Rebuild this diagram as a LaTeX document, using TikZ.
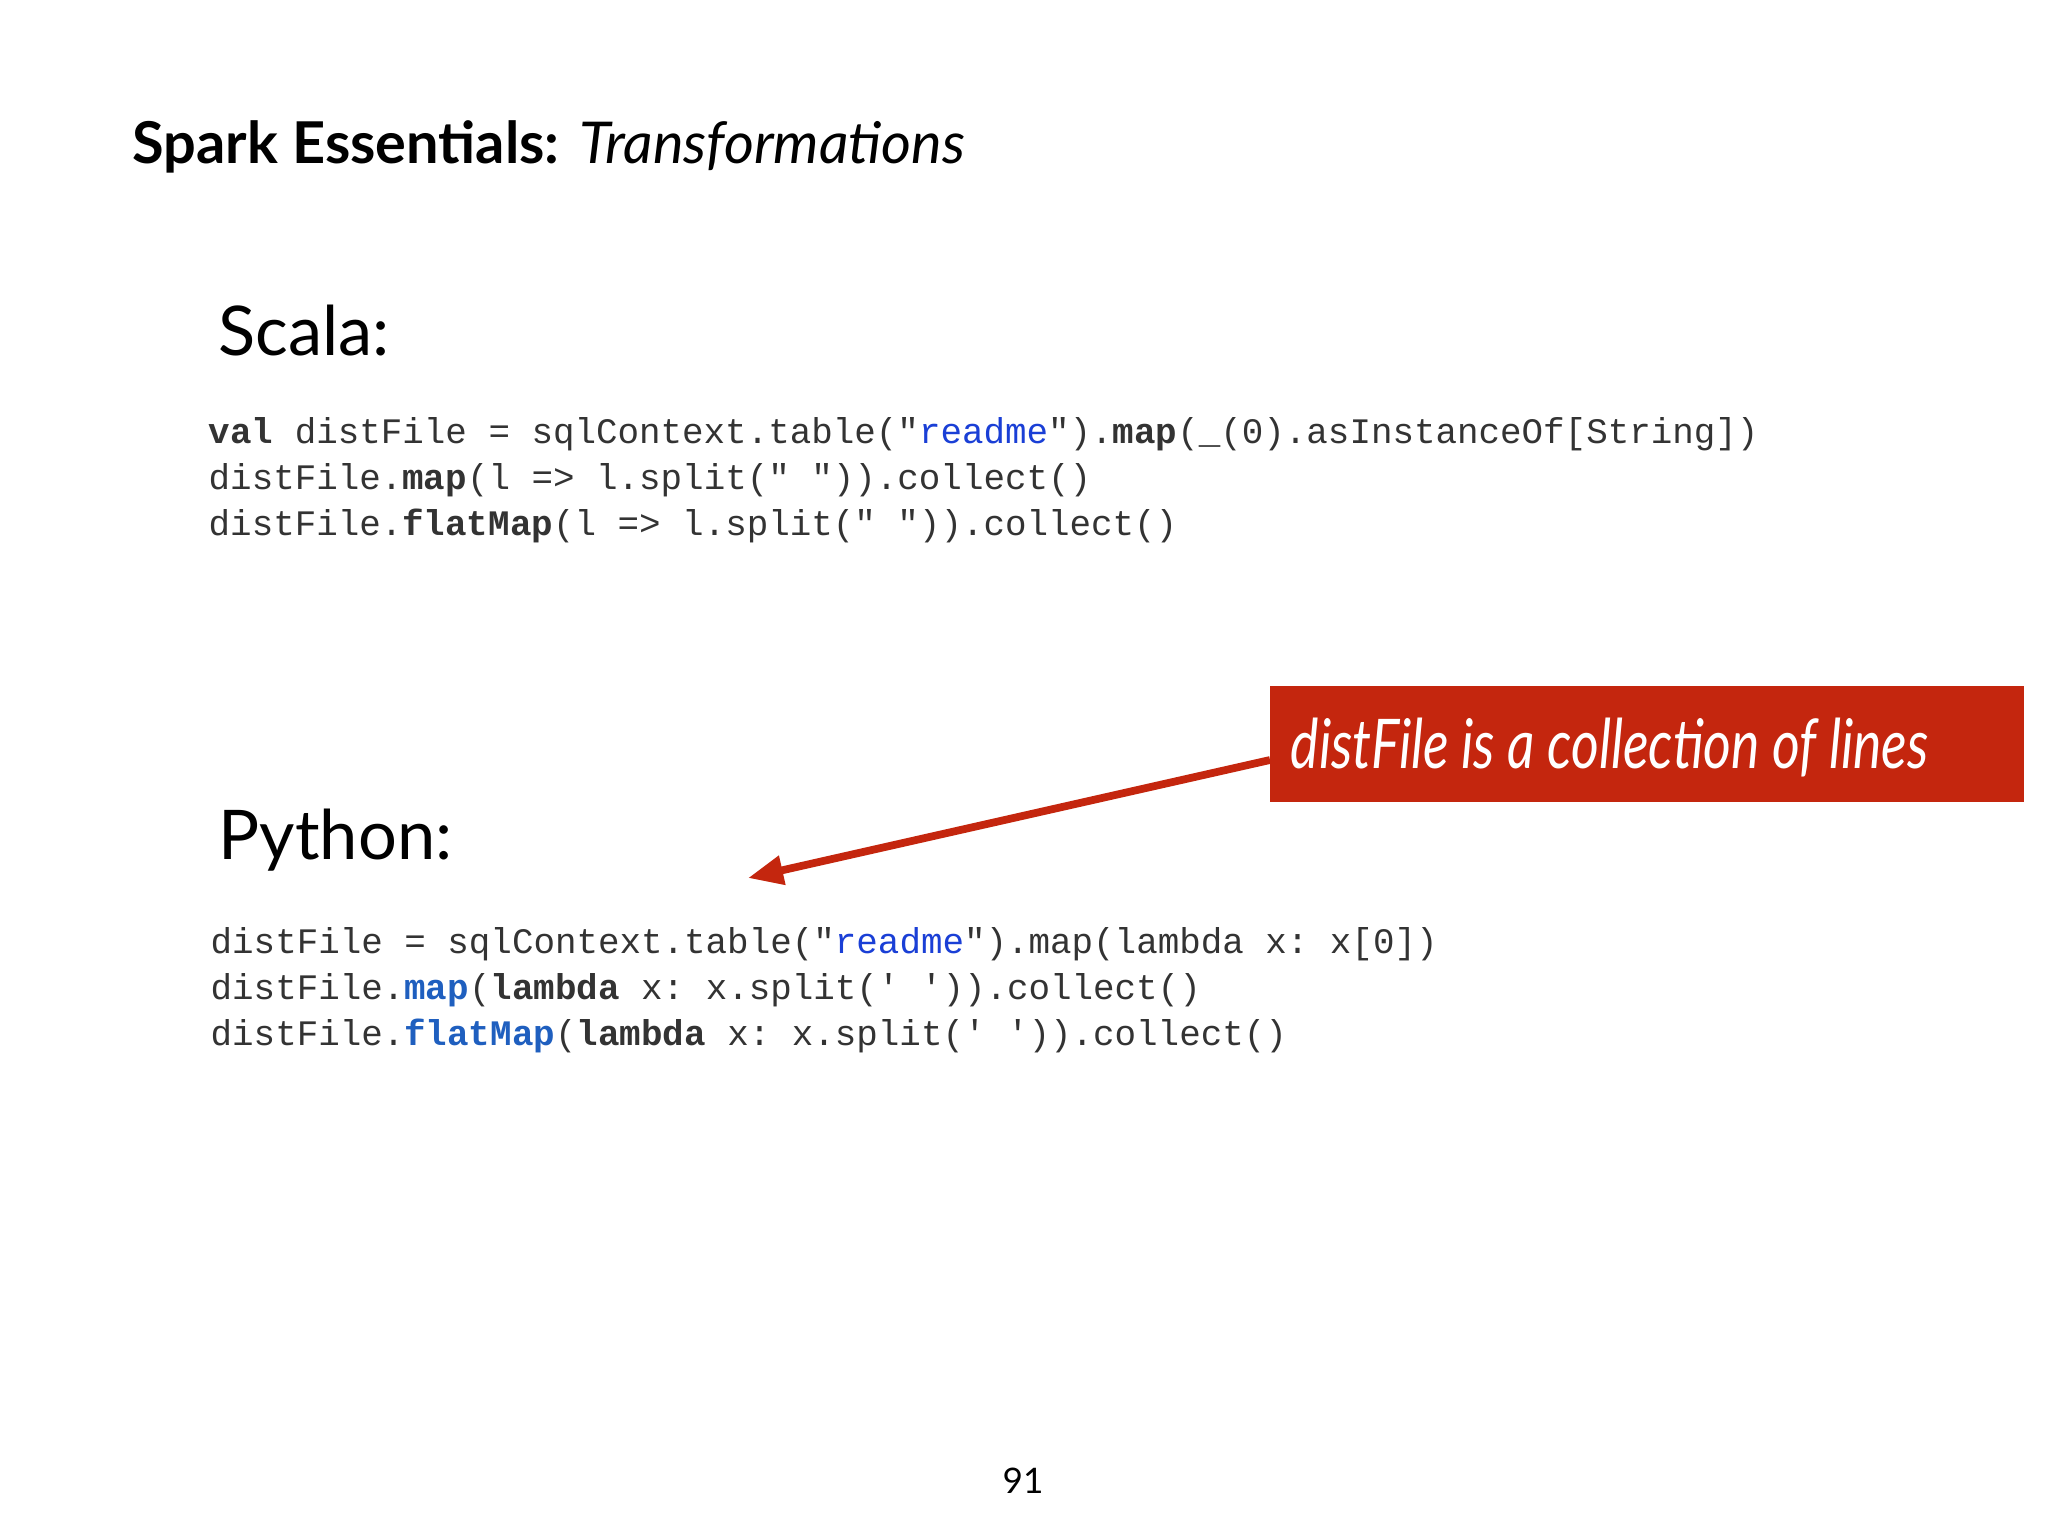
\documentclass[tikz,border=0pt]{standalone}
\usepackage{fontspec}
\setmainfont{Lato}
\setmonofont{Liberation Mono}
\usetikzlibrary{arrows.meta}
\definecolor{slidered}{HTML}{C4260E}
\definecolor{strblue}{HTML}{1A3FD6}
\definecolor{kwblue}{HTML}{1F5FBF}
\definecolor{codegray}{HTML}{333333}
\tikzset{
  code/.style={anchor=base west,inner sep=0,font=\ttfamily\fontsize{10.2pt}{12pt}\selectfont,text=codegray},
  heading/.style={anchor=base west,inner sep=0,font=\fontsize{19.5pt}{23pt}\selectfont},
}
\newcommand{\rs}[1]{\textcolor{strblue}{#1}}
\newcommand{\kb}[1]{\textcolor{kwblue}{\bfseries #1}}
\begin{document}
\begin{tikzpicture}[x=0.01cm,y=-0.01cm]
\useasboundingbox (0,0) rectangle (2048,1536);
\fill[white] (0,0) rectangle (2048,1536);
\node[anchor=base west,inner sep=0,font=\fontsize{16.4pt}{20pt}\selectfont] (title) at (132,163) {\textbf{Spark Essentials:} \textit{Transformations}};
\node[heading] (scala) at (218,355) {Scala:};
\node[code] (s1) at (208,443) {\textbf{val} distFile = sqlContext.table("\rs{readme}").\textbf{map}(\_(0).asInstanceOf[String])};
\node[code] (s2) at (208,489) {distFile.\textbf{map}(l => l.split(" ")).collect()};
\node[code] (s3) at (208,535) {distFile.\textbf{flatMap}(l => l.split(" ")).collect()};
\node[heading] (python) at (218,859) {Python:};
\node[code] (p1) at (210,953) {distFile = sqlContext.table("\rs{readme}").map(lambda x: x[0])};
\node[code] (p2) at (210,999) {distFile.\kb{map}(\textbf{lambda} x: x.split(' ')).collect()};
\node[code] (p3) at (210,1045) {distFile.\kb{flatMap}(\textbf{lambda} x: x.split(' ')).collect()};
\fill[slidered] (1270,686) rectangle (2024,802);
\node[anchor=base west,inner sep=0,text=white,font=\fontsize{19.5pt}{23pt}\selectfont\itshape] (note) at (1290,768) {\scalebox{0.78}[1]{distFile is a collection of lines}};
\coordinate (boxl) at (1270,760);
\coordinate (tip) at (748,878);
\draw[slidered,line width=2.2pt,-{Triangle[length=10pt,width=8pt]}] (boxl) -- (tip);
\node[anchor=base,inner sep=0,font=\fontsize{10pt}{12pt}\selectfont] (page) at (1023,1493) {91};
\end{tikzpicture}
\end{document}
